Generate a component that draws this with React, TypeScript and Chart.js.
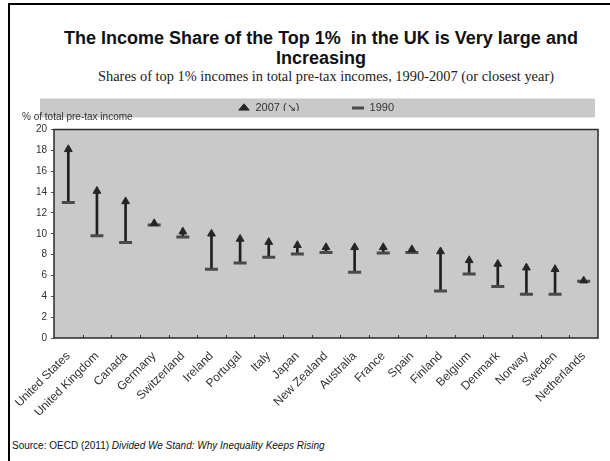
import React, { useEffect, useRef } from "react";
import { Chart, registerables } from "chart.js";

Chart.register(...registerables);

const countries = [
  "United States", "United Kingdom", "Canada", "Germany", "Switzerland", "Ireland",
  "Portugal", "Italy", "Japan", "New Zealand", "Australia", "France", "Spain",
  "Finland", "Belgium", "Denmark", "Norway", "Sweden", "Netherlands",
];
const share2007 = [18.1, 14.1, 13.1, 11.0, 10.2, 10.0, 9.5, 9.2, 8.9, 8.7, 8.7, 8.7, 8.5, 8.3, 7.45, 7.1, 6.75, 6.6, 5.5];
const share1990 = [13.0, 9.8, 9.15, 10.85, 9.7, 6.6, 7.2, 7.75, 8.05, 8.2, 6.3, 8.15, 8.2, 4.5, 6.15, 4.95, 4.2, 4.2, 5.45];
const yMin = 0;
const yMax = 20;
const yStep = 2;

const label2007 = "2007 (\u2198)";
const label1990 = "1990";
const yCaption = "% of total pre-tax income";
const titleLine1 = "The Income Share of the Top 1%\u00a0 in the UK is Very large and";
const titleLine2 = "Increasing";
const subtitleText = "Shares of top 1% incomes in total pre-tax incomes, 1990-2007 (or closest year)";
const sourcePlain = "Source: OECD (2011) ";
const sourceItalic = "Divided We Stand: Why Inequality Keeps Rising";

const SANS = "'Liberation Sans', Arial, sans-serif";
const PLOT_BG = "#c9c9c9";
const LEGEND_PAD = 13;
const LEGEND_FONT = 11;

export default function App() {
  const canvasRef = useRef<HTMLCanvasElement | null>(null);

  useEffect(() => {
    document.body.style.margin = "0";
    const canvas = canvasRef.current;
    if (!canvas) return;

    const decor = {
      id: "decor",
      beforeDraw(chart: any) {
        const { ctx, chartArea: a, legend } = chart;
        ctx.save();
        ctx.fillStyle = PLOT_BG;
        if (legend) {
          const cy = legend.top + LEGEND_PAD + LEGEND_FONT / 2;
          ctx.fillRect(40, cy - 9.5, 555, 19);
        }
        ctx.fillRect(a.left, a.top, a.right - a.left, a.bottom - a.top);
        ctx.restore();
      },
      beforeDatasetsDraw(chart: any) {
        const { ctx, chartArea: a, scales } = chart;
        const xs = scales.x;
        ctx.save();
        ctx.strokeStyle = "#2a2a2a";
        ctx.lineWidth = 1.5;
        ctx.strokeRect(a.left, a.top, a.right - a.left, a.bottom - a.top);
        ctx.lineWidth = 1;
        ctx.strokeStyle = "#333";
        for (let i = 1; i < countries.length; i++) {
          const x = Math.round((xs.getPixelForValue(i - 1) + xs.getPixelForValue(i)) / 2) + 0.5;
          ctx.beginPath();
          ctx.moveTo(x, a.bottom);
          ctx.lineTo(x, a.bottom - 3);
          ctx.stroke();
        }
        ctx.restore();
      },
    };

    const chart = new Chart(canvas, {
      type: "bar",
      data: {
        labels: countries,
        datasets: [
          {
            type: "line",
            label: label2007,
            data: share2007,
            showLine: false,
            pointStyle: "triangle",
            pointRadius: 4.5,
            pointBackgroundColor: "#262626",
            pointBorderColor: "#262626",
            backgroundColor: "#262626",
            borderColor: "#262626",
            borderWidth: 1,
          } as any,
          {
            type: "line",
            label: label1990,
            data: share1990,
            showLine: false,
            pointStyle: "line",
            pointRadius: 6.5,
            pointBorderWidth: 3,
            pointBorderColor: "#4a4a4a",
            backgroundColor: "#4a4a4a",
            borderColor: "#4a4a4a",
            borderWidth: 3,
          } as any,
          {
            type: "bar",
            label: "range",
            data: countries.map((_, i) => [share1990[i], share2007[i]]),
            backgroundColor: "#1f1f1f",
            borderWidth: 0,
            barThickness: 2,
          } as any,
        ],
      },
      options: {
        responsive: false,
        animation: false,
        devicePixelRatio: 1,
        layout: { padding: { left: 22, right: 0, top: 1.5, bottom: 0 } },
        plugins: {
          tooltip: { enabled: false },
          legend: {
            position: "top",
            maxHeight: 21.5,
            labels: {
              usePointStyle: true,
              pointStyleWidth: 12,
              boxHeight: 6,
              padding: LEGEND_PAD,
              color: "#333",
              font: { size: LEGEND_FONT, family: SANS },
              generateLabels(chart: any) {
                const base = Chart.defaults.plugins.legend.labels
                  .generateLabels(chart)
                  .filter((it: any) => it.datasetIndex !== 2);
                const spacer = {
                  text: "   ",
                  fillStyle: "rgba(0,0,0,0)",
                  strokeStyle: "rgba(0,0,0,0)",
                  lineWidth: 0,
                  pointStyle: "circle",
                  hidden: false,
                  datasetIndex: -1,
                };
                return [base[0], spacer, base[1]];
              },
            },
          },
          title: {
            display: true,
            text: yCaption,
            align: "start",
            position: "top",
            weight: 500,
            color: "#333",
            font: { size: 10, family: SANS, weight: "normal", lineHeight: 1.2 },
            padding: { top: 0, bottom: 6.5 },
          },
        },
        scales: {
          x: {
            offset: true,
            grid: { display: false },
            border: { display: false },
            ticks: {
              autoSkip: false,
              minRotation: 45,
              maxRotation: 45,
              padding: 3,
              color: "#333",
              font: { size: 12, family: SANS },
            },
            afterFit(scale: any) {
              scale.height = 90;
            },
          },
          y: {
            min: yMin,
            max: yMax,
            ticks: {
              stepSize: yStep,
              padding: 4,
              color: "#333",
              font: { size: 10, family: SANS },
            },
            grid: { drawOnChartArea: false, drawTicks: true, tickLength: 3, color: "#555" },
            border: { display: false },
            afterFit(scale: any) {
              scale.width = 32;
            },
          },
          yRight: {
            position: "right",
            display: true,
            ticks: { display: false },
            grid: { display: false },
            border: { display: false },
            afterFit(scale: any) {
              scale.width = 12;
            },
          },
        },
      },
      plugins: [decor],
    } as any);

    return () => chart.destroy();
  }, []);

  return (
    <div style={{ position: "absolute", left: 0, top: 0, width: 610, height: 461, overflow: "hidden", background: "#fff", fontFamily: SANS }}>
      <div style={{ position: "absolute", left: 8, top: 3, width: 602, height: 2, background: "#000" }} />
      <div style={{ position: "absolute", left: 8, top: 3, width: 2, height: 458, background: "#000" }} />
      <div style={{ position: "absolute", left: 21, top: 28, width: 600, textAlign: "center", fontWeight: "bold", fontSize: 18, lineHeight: "20px", color: "#111" }}>
        <div>{titleLine1}</div>
        <div>{titleLine2}</div>
      </div>
      <div style={{ position: "absolute", left: 26, top: 68, width: 600, textAlign: "center", fontFamily: "'Liberation Serif', 'DejaVu Serif', serif", fontSize: 14.4, lineHeight: "16px", color: "#222" }}>
        {subtitleText}
      </div>
      <canvas ref={canvasRef} width={610} height={340} style={{ position: "absolute", left: 0, top: 88, width: 610, height: 340 }} />
      <div style={{ position: "absolute", left: 12, top: 439, fontSize: 10, lineHeight: "14px", color: "#111", whiteSpace: "nowrap" }}>
        {sourcePlain}
        <i>{sourceItalic}</i>
      </div>
    </div>
  );
}
